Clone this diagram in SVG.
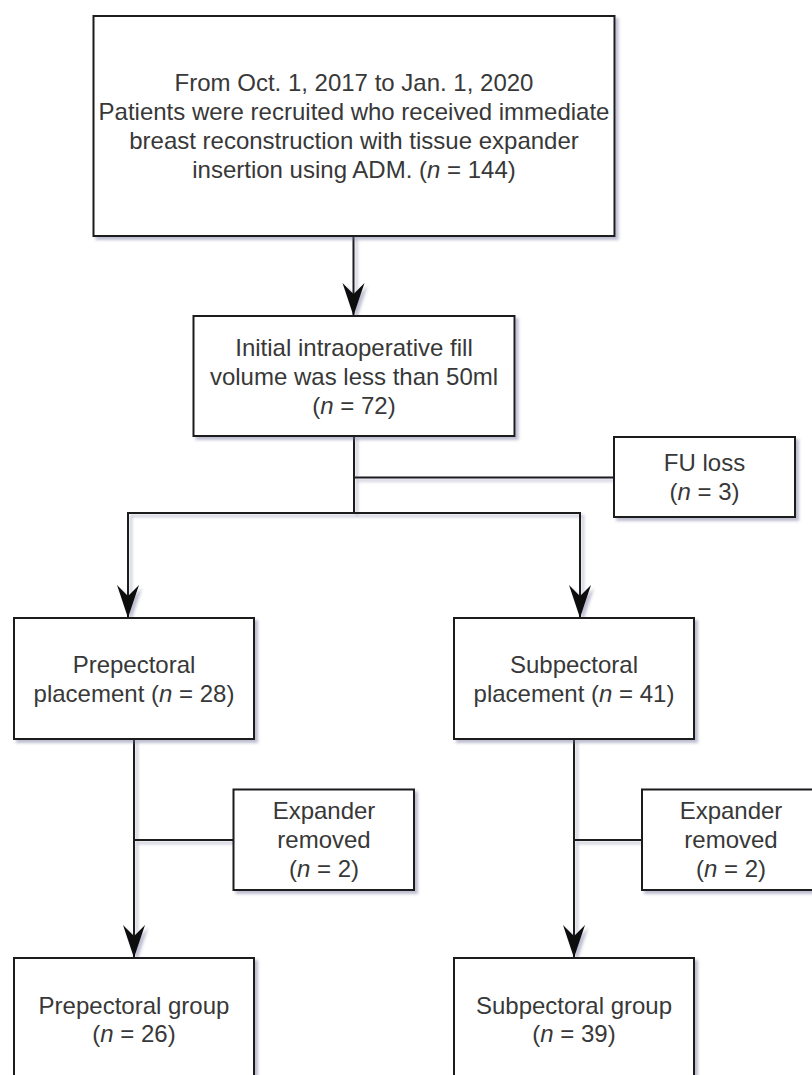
<svg xmlns="http://www.w3.org/2000/svg" width="812" height="1075" viewBox="0 0 812 1075">
<style>
.box{fill:#fff;stroke:#1a1a1a;stroke-width:2}
.t{font-family:"Liberation Sans",Arial,sans-serif;font-size:24px;fill:#383838;text-anchor:middle}
.i{font-style:italic}
.ln{fill:none;stroke:#1a1a1a;stroke-width:2}
</style>
<defs>
<filter id="sh" x="-10%" y="-10%" width="130%" height="130%">
<feDropShadow dx="3" dy="3" stdDeviation="1.6" flood-color="#6f6f99" flood-opacity="0.45"/>
</filter>
<marker id="ah" markerUnits="userSpaceOnUse" viewBox="-34 -12 35 24" refX="0" refY="0" markerWidth="35" markerHeight="24" orient="auto">
<path d="M0,0 L-33,-11 L-22,0 L-33,11 Z" fill="#111"/>
</marker>
</defs>
<rect width="812" height="1075" fill="#fff"/>
<g id="connectors" filter="url(#sh)">
<path class="ln" d="M353.5,236 V316" marker-end="url(#ah)"/>
<path class="ln" d="M354,436 V513 H128 V618" marker-end="url(#ah)"/>
<path class="ln" d="M354,513 H580 V618" marker-end="url(#ah)"/>
<path class="ln" d="M354,477.5 H614"/>
<path class="ln" d="M134,739 V958" marker-end="url(#ah)"/>
<path class="ln" d="M134,840 H233.5"/>
<path class="ln" d="M574,739 V958" marker-end="url(#ah)"/>
<path class="ln" d="M574,840 H642"/>
</g>
<g id="n1">
<rect class="box" x="93.5" y="16" width="521" height="220" filter="url(#sh)"/>
<text class="t" x="354" y="91">From Oct. 1, 2017 to Jan. 1, 2020</text>
<text class="t" x="354" y="120">Patients were recruited who received immediate</text>
<text class="t" x="354" y="149">breast reconstruction with tissue expander</text>
<text class="t" x="354" y="178">insertion using ADM. (<tspan class="i">n</tspan> = 144)</text>
</g>
<g id="n2">
<rect class="box" x="193.5" y="316" width="321" height="120" filter="url(#sh)"/>
<text class="t" x="354" y="355.5">Initial intraoperative fill</text>
<text class="t" x="354" y="384.5">volume was less than 50ml</text>
<text class="t" x="354" y="413.5">(<tspan class="i">n</tspan> = 72)</text>
</g>
<g id="fuloss">
<rect class="box" x="614" y="437" width="181" height="80" filter="url(#sh)"/>
<text class="t" x="704.5" y="471">FU loss</text>
<text class="t" x="704.5" y="500">(<tspan class="i">n</tspan> = 3)</text>
</g>
<g id="prepl">
<rect class="box" x="14" y="618" width="240" height="121" filter="url(#sh)"/>
<text class="t" x="134" y="672.5">Prepectoral</text>
<text class="t" x="134" y="701.5">placement (<tspan class="i">n</tspan> = 28)</text>
</g>
<g id="subpl">
<rect class="box" x="454" y="618" width="240" height="121" filter="url(#sh)"/>
<text class="t" x="574" y="672.5">Subpectoral</text>
<text class="t" x="574" y="701.5">placement (<tspan class="i">n</tspan> = 41)</text>
</g>
<g id="exp1">
<rect class="box" x="233.5" y="789.5" width="180.5" height="100.5" filter="url(#sh)"/>
<text class="t" x="324" y="819">Expander</text>
<text class="t" x="324" y="848">removed</text>
<text class="t" x="324" y="877">(<tspan class="i">n</tspan> = 2)</text>
</g>
<g id="exp2">
<rect class="box" x="642" y="789.5" width="180" height="100.5" filter="url(#sh)"/>
<text class="t" x="731" y="819">Expander</text>
<text class="t" x="731" y="848">removed</text>
<text class="t" x="731" y="877">(<tspan class="i">n</tspan> = 2)</text>
</g>
<g id="pregrp">
<rect class="box" x="14" y="958" width="240" height="125" filter="url(#sh)"/>
<text class="t" x="134" y="1013.5">Prepectoral group</text>
<text class="t" x="134" y="1042">(<tspan class="i">n</tspan> = 26)</text>
</g>
<g id="subgrp">
<rect class="box" x="454" y="958" width="240" height="125" filter="url(#sh)"/>
<text class="t" x="574" y="1013.5">Subpectoral group</text>
<text class="t" x="574" y="1042">(<tspan class="i">n</tspan> = 39)</text>
</g>
</svg>
